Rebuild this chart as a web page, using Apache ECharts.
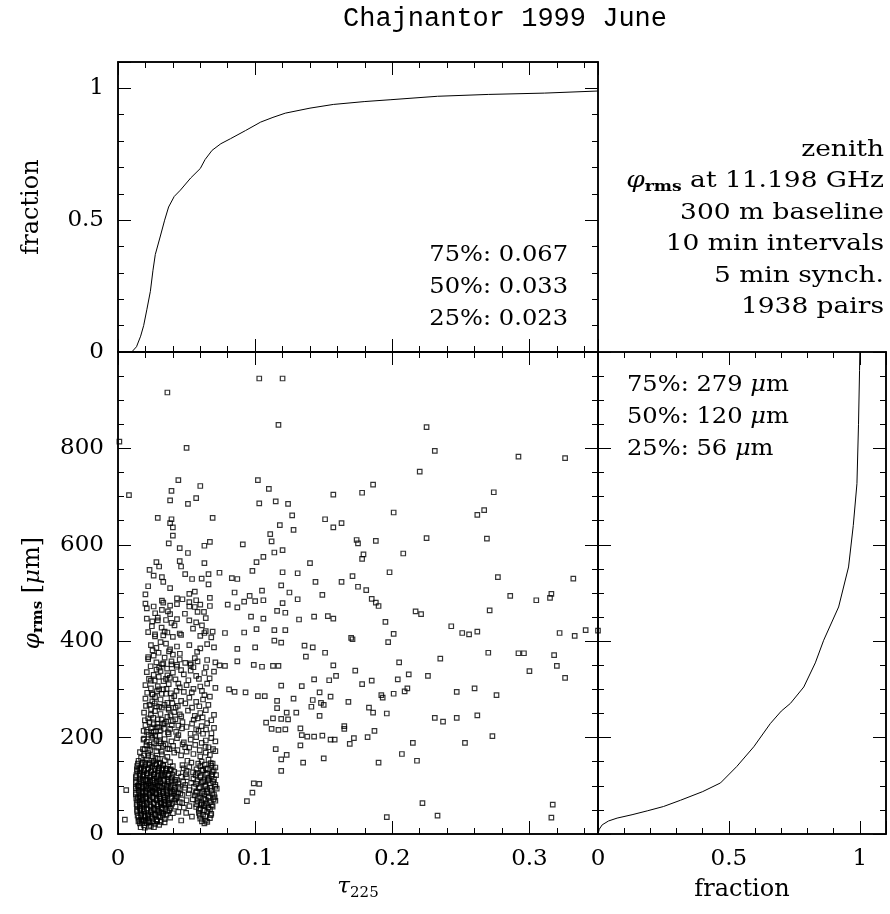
<!DOCTYPE html>
<html>
<head>
<meta charset="utf-8">
<title>Chajnantor 1999 June</title>
<script src="https://cdn.jsdelivr.net/npm/echarts@6/dist/echarts.min.js"></script>
<style>
  html, body { margin: 0; padding: 0; background: #fff; }
  #main { width: 890px; height: 914px; }
</style>
</head>
<body>
<div id="main"></div>
<script>
// cumulative distribution of tau225: [tau, fraction]
var tauCdf = [[0,0],[0.010,0],[0.0135,0.02],[0.0165,0.06],[0.0187,0.10],[0.021,0.16],[0.0236,0.23],[0.0255,0.31],[0.0272,0.37],[0.0309,0.44],[0.034,0.50],[0.0369,0.55],[0.041,0.59],[0.0455,0.614],[0.053,0.66],[0.060,0.696],[0.0635,0.73],[0.0686,0.765],[0.075,0.79],[0.082,0.809],[0.093,0.84],[0.104,0.872],[0.113,0.89],[0.122,0.906],[0.14,0.925],[0.157,0.939],[0.18,0.95],[0.199,0.957],[0.233,0.970],[0.27,0.977],[0.311,0.982],[0.35,0.990]];
// cumulative distribution of phi_rms: [fraction, phi]
var phiCdf = [[0,0],[0.005,10],[0.016,19],[0.04,27],[0.073,33],[0.13,40],[0.188,48],[0.25,57],[0.315,70],[0.40,88],[0.468,106],[0.53,140],[0.595,181],[0.658,229],[0.70,255],[0.735,271],[0.786,305],[0.83,355],[0.862,402],[0.919,471],[0.957,554],[0.975,640],[0.989,727],[0.995,850],[0.999,962],[1.0,1000]];

// tau225 / phi_rms pairs, outer scattered points
var pairsSparse = [[0.103,945],[0.120,945],[0.036,916],[0.117,849],[0.001,814],[0.050,801],[0.008,703],[0.044,734],[0.102,734],[0.110,716],[0.060,722],[0.039,712],[0.057,697],[0.038,692],[0.051,685],[0.103,686],[0.115,690],[0.124,685],[0.127,661],[0.069,656],[0.029,656],[0.039,653],[0.038,645],[0.040,636],[0.118,641],[0.128,631],[0.151,653],[0.157,704],[0.157,636],[0.040,619],[0.111,622],[0.112,607],[0.037,603],[0.091,601],[0.067,606],[0.063,598],[0.045,593],[0.051,583],[0.114,584],[0.120,589],[0.106,575],[0.045,566],[0.028,564],[0.063,562],[0.101,564],[0.140,562],[0.030,555],[0.046,555],[0.023,548],[0.074,542],[0.066,539],[0.049,539],[0.098,546],[0.120,543],[0.131,541],[0.083,531],[0.087,529],[0.026,536],[0.032,533],[0.061,530],[0.054,529],[0.033,523],[0.144,523],[0.038,510],[0.066,518],[0.022,514],[0.085,501],[0.096,494],[0.105,505],[0.119,516],[0.125,501],[0.149,496],[0.020,497],[0.052,498],[0.056,503],[0.032,484],[0.043,489],[0.047,487],[0.057,485],[0.067,490],[0.080,476],[0.087,470],[0.092,482],[0.100,483],[0.106,485],[0.131,487],[0.120,479],[0.021,468],[0.038,456],[0.029,443],[0.032,465],[0.052,472],[0.058,461],[0.116,463],[0.122,459],[0.132,445],[0.143,451],[0.153,452],[0.157,447],[0.097,451],[0.106,447],[0.101,425],[0.114,423],[0.122,423],[0.092,418],[0.078,417],[0.069,420],[0.063,417],[0.046,413],[0.034,420],[0.027,414],[0.136,391],[0.142,387],[0.114,401],[0.119,397],[0.087,384],[0.100,387],[0.137,368],[0.151,376],[0.157,350],[0.159,328],[0.154,319],[0.099,351],[0.105,347],[0.113,349],[0.117,349],[0.074,350],[0.078,349],[0.087,358],[0.022,367],[0.033,354],[0.043,351],[0.053,354],[0.143,321],[0.134,307],[0.119,308],[0.093,294],[0.102,286],[0.107,286],[0.085,295],[0.081,300],[0.147,294],[0.155,285],[0.148,272],[0.142,278],[0.150,268],[0.128,281],[0.116,276],[0.116,261],[0.123,252],[0.130,252],[0.147,245],[0.141,264],[0.124,238],[0.119,239],[0.113,240],[0.108,231],[0.112,218],[0.117,216],[0.122,217],[0.133,219],[0.134,205],[0.138,202],[0.143,202],[0.149,204],[0.155,196],[0.158,196],[0.133,184],[0.123,164],[0.115,176],[0.119,155],[0.135,148],[0.150,157],[0.119,131],[0.099,105],[0.103,104],[0.094,68],[0.098,86],[0.006,91],[0.005,30],
[0.225,844],[0.231,795],[0.220,752],[0.178,708],[0.186,725],[0.201,667],[0.163,645],[0.292,783],[0.326,780],[0.274,709],[0.267,672],[0.262,662],[0.269,613],[0.225,614],[0.174,610],[0.175,603],[0.188,608],[0.179,580],[0.178,571],[0.208,582],[0.198,543],[0.171,535],[0.163,523],[0.175,513],[0.181,506],[0.185,488],[0.188,480],[0.190,473],[0.277,533],[0.332,530],[0.286,494],[0.305,485],[0.315,490],[0.316,498],[0.271,464],[0.217,462],[0.221,456],[0.195,440],[0.243,431],[0.251,417],[0.256,414],[0.262,420],[0.322,417],[0.333,411],[0.341,423],[0.350,422],[0.201,415],[0.197,398],[0.170,407],[0.171,404],[0.270,376],[0.292,375],[0.296,375],[0.318,371],[0.320,349],[0.326,324],[0.300,338],[0.173,339],[0.205,356],[0.235,364],[0.204,321],[0.212,331],[0.226,328],[0.185,318],[0.178,311],[0.211,302],[0.209,296],[0.192,288],[0.193,283],[0.201,291],[0.247,295],[0.260,302],[0.276,288],[0.168,274],[0.183,262],[0.186,252],[0.196,250],[0.231,241],[0.237,233],[0.247,241],[0.262,246],[0.165,224],[0.165,218],[0.187,214],[0.172,199],[0.182,201],[0.169,187],[0.215,189],[0.253,189],[0.273,203],[0.207,166],[0.190,148],[0.218,152],[0.222,64],[0.233,38],[0.196,35],[0.317,61],[0.316,34]];

// middle band, tau < 0.075 and phi 160-480
var pairsMid = [[0.020,478],[0.026,472],[0.033,480],[0.038,474],[0.043,477],[0.052,481],[0.056,471],[0.060,476],[0.067,473],
[0.021,447],[0.025,441],[0.029,449],[0.035,444],[0.039,438],[0.043,446],[0.052,443],[0.057,439],[0.064,448],
[0.022,419],[0.027,410],[0.033,412],[0.036,418],[0.040,409],[0.045,416],[0.060,411],[0.064,421],[0.068,408],
[0.024,392],[0.028,386],[0.035,395],[0.038,383],[0.043,389],[0.052,392],[0.060,385],[0.065,394],[0.070,387],
[0.022,363],[0.028,356],[0.034,366],[0.039,358],[0.045,362],[0.049,355],[0.056,365],[0.058,358],[0.065,361],[0.071,356],
[0.021,336],[0.026,330],[0.031,338],[0.036,329],[0.040,335],[0.048,331],[0.053,339],[0.057,328],[0.063,334],[0.070,337],
[0.020,309],[0.024,302],[0.029,307],[0.033,300],[0.037,311],[0.045,304],[0.050,309],[0.055,301],[0.060,306],[0.065,312],[0.071,303],
[0.020,281],[0.025,275],[0.027,284],[0.031,279],[0.036,272],[0.039,282],[0.046,276],[0.052,283],[0.057,274],[0.062,279],[0.067,285],
[0.019,252],[0.024,247],[0.027,255],[0.031,249],[0.036,243],[0.041,253],[0.045,248],[0.051,256],[0.056,245],[0.060,251],[0.064,257],[0.070,247],
[0.020,226],[0.024,219],[0.026,228],[0.030,221],[0.033,229],[0.038,218],[0.044,225],[0.050,222],[0.054,229],[0.057,217],[0.061,224],[0.065,230],[0.070,220],
[0.019,198],[0.021,191],[0.025,200],[0.028,193],[0.031,188],[0.034,197],[0.039,192],[0.043,199],[0.048,190],[0.053,196],[0.057,201],[0.061,189],[0.064,194],[0.068,199],[0.071,192],
[0.016,170],[0.019,163],[0.022,168],[0.025,161],[0.028,172],[0.032,165],[0.036,160],[0.041,169],[0.046,163],[0.050,171],[0.055,166],[0.060,161],[0.064,169],[0.067,164],[0.071,172],
[0.023,185],[0.026,212],[0.029,238],[0.032,262],[0.035,291],[0.024,318],[0.030,345],[0.027,205],[0.034,230],[0.037,258],[0.041,286],[0.044,312],[0.022,240],[0.030,300],[0.033,183],[0.037,207],[0.040,234],[0.042,262],[0.028,265],[0.025,290],[0.031,215],[0.036,177],[0.044,205],[0.047,232],[0.049,180],[0.021,212],[0.023,268],[0.035,322],[0.039,352],[0.026,370],[0.031,398],[0.040,372],[0.046,340],[0.048,295],[0.054,262],[0.058,240],[0.062,208],[0.066,180],[0.068,236],[0.063,288],[0.059,322],[0.055,346],
[0.0182,176],[0.0207,184],[0.0234,174],[0.0262,188],[0.0293,179],[0.0318,171],[0.0347,186],[0.0375,176],[0.0402,183],[0.0433,174],[0.0471,186],[0.0519,179],[0.0563,185],[0.0596,174],[0.0638,181],[0.0693,176],
[0.0187,214],[0.0223,206],[0.0249,221],[0.0276,213],[0.0305,204],[0.0336,218],[0.0364,211],[0.0392,226],[0.0424,212],[0.0466,219],[0.0529,208],[0.0587,214],[0.0642,217],[0.0681,209],
[0.0196,236],[0.0229,232],[0.0258,241],[0.0287,229],[0.0318,237],[0.0352,233],[0.0383,246],[0.0418,238],[0.0461,244],[0.0552,237],[0.0617,242],
[0.0204,266],[0.0241,259],[0.0268,271],[0.0301,264],[0.0339,268],[0.0368,261],[0.0396,271],[0.0436,266],[0.0491,271],[0.0593,265],[0.0659,268],
[0.0213,293],[0.0252,289],[0.0284,296],[0.0319,291],[0.0354,301],[0.0386,292],[0.0427,297],[0.0538,294],[0.0612,297],
[0.0226,322],[0.0268,318],[0.0297,326],[0.0332,317],[0.0378,324],[0.0419,321],[0.0513,319],[0.0668,323],
[0.0238,348],[0.0281,341],[0.0321,352],[0.0358,343],[0.0428,347],[0.0529,351],[0.0641,346],
[0.0252,381],[0.0296,376],[0.0372,379],[0.0451,374],[0.0577,378],
[0.0247,431],[0.0318,428],[0.0412,433],[0.0547,426],[0.0612,433],
[0.0271,458],[0.0364,462],[0.0488,457],[0.0627,461],
[0.0168,158],[0.0194,176],[0.0221,162],[0.0247,181],[0.0273,158],[0.0301,192],[0.0186,196],[0.0243,204],[0.0289,222]];

// dense core, phi < 160
var pairsCore = [[0.015,152],[0.018,148],[0.021,155],[0.023,147],[0.026,151],[0.029,156],[0.031,146],[0.034,153],[0.038,149],[0.061,150],[0.066,154],[0.069,146],
[0.014,141],[0.017,137],[0.020,143],[0.022,136],[0.025,140],[0.027,144],[0.030,137],[0.033,142],[0.036,135],[0.040,141],[0.047,143],[0.052,139],[0.060,141],[0.064,136],[0.068,142],[0.071,138],
[0.014,130],[0.016,125],[0.019,131],[0.021,126],[0.024,129],[0.026,124],[0.029,131],[0.032,127],[0.035,132],[0.037,124],[0.041,129],[0.044,126],[0.050,131],[0.058,127],[0.062,132],[0.065,125],[0.069,129],
[0.013,118],[0.016,114],[0.018,119],[0.020,113],[0.023,117],[0.025,112],[0.028,118],[0.030,114],[0.033,120],[0.036,113],[0.039,117],[0.043,112],[0.046,119],[0.055,115],[0.060,118],[0.063,112],[0.066,117],[0.070,114],
[0.013,106],[0.015,101],[0.017,107],[0.019,102],[0.022,105],[0.024,100],[0.027,106],[0.029,101],[0.031,107],[0.034,103],[0.037,108],[0.040,101],[0.044,105],[0.049,102],[0.057,104],[0.061,107],[0.064,100],[0.067,105],[0.071,102],
[0.013,94],[0.015,90],[0.018,95],[0.020,89],[0.022,93],[0.025,88],[0.027,94],[0.030,90],[0.032,96],[0.035,91],[0.038,95],[0.041,89],[0.045,93],[0.052,91],[0.059,95],[0.062,88],[0.065,93],[0.068,90],[0.072,94],
[0.013,82],[0.016,78],[0.018,83],[0.020,77],[0.023,81],[0.025,76],[0.028,82],[0.030,78],[0.033,84],[0.036,79],[0.039,83],[0.043,77],[0.047,81],[0.056,80],[0.060,76],[0.063,83],[0.066,78],[0.070,82],
[0.014,70],[0.016,66],[0.018,71],[0.021,65],[0.023,69],[0.026,64],[0.028,70],[0.031,66],[0.034,71],[0.037,65],[0.041,69],[0.045,66],[0.050,70],[0.058,68],[0.061,64],[0.064,71],[0.067,66],[0.071,69],
[0.014,58],[0.016,54],[0.019,59],[0.021,53],[0.024,57],[0.026,52],[0.029,58],[0.032,54],[0.035,59],[0.038,53],[0.042,57],[0.048,55],[0.057,56],[0.060,52],[0.063,58],[0.066,54],[0.069,57],
[0.014,46],[0.017,42],[0.019,47],[0.022,41],[0.024,45],[0.027,40],[0.030,46],[0.033,42],[0.036,47],[0.040,43],[0.044,46],[0.059,44],[0.062,40],[0.065,46],[0.068,42],
[0.015,34],[0.017,30],[0.020,35],[0.022,29],[0.025,33],[0.028,30],[0.031,35],[0.034,31],[0.038,34],[0.060,32],[0.064,28],[0.067,33],
[0.016,22],[0.019,18],[0.021,23],[0.024,17],[0.027,21],[0.030,19],[0.034,24],[0.063,22],
[0.0155,136],[0.0185,122],[0.0215,110],[0.0245,97],[0.0275,85],[0.0305,73],[0.0335,61],[0.0165,49],[0.0195,37],[0.0225,26],[0.0255,40],[0.0285,52],[0.0315,64],[0.0345,76],[0.0175,88],[0.0205,100],[0.0235,112],[0.0265,124],[0.0295,136],[0.0325,88],[0.0355,100],[0.0175,62],[0.0205,74],[0.0235,86],[0.0265,98],[0.0295,110],[0.0325,122],[0.0145,100],[0.0145,76],[0.0155,28],[0.0185,28],[0.0285,26],[0.0315,44],[0.0375,62],[0.0395,88],[0.0415,112],[0.0385,134],[0.0425,74],[0.0455,84],[0.0475,108],[0.0495,124],[0.0535,148],[0.0575,88],[0.0625,60],[0.0655,112],[0.0685,124],[0.0705,76],[0.0545,72]];

// second layer of the dense core
var pairsCore2 = [[0.0145,146],[0.0172,145],[0.0198,148],[0.0226,144],[0.0251,147],[0.0279,145],[0.0305,148],[0.0328,144],
[0.0138,134],[0.0163,133],[0.0192,135],[0.0217,134],[0.0243,132],[0.0268,135],[0.0297,133],[0.0322,134],[0.0349,136],[0.0378,133],
[0.0134,122],[0.0158,121],[0.0186,123],[0.0211,122],[0.0238,120],[0.0262,123],[0.0288,121],[0.0315,122],[0.0341,124],[0.0368,121],[0.0397,123],
[0.0132,110],[0.0155,109],[0.0181,111],[0.0207,110],[0.0232,108],[0.0258,111],[0.0284,109],[0.0309,110],[0.0337,112],[0.0362,109],[0.0389,111],[0.0418,108],
[0.0131,98],[0.0153,97],[0.0178,99],[0.0204,98],[0.0229,96],[0.0255,99],[0.0281,97],[0.0306,98],[0.0332,100],[0.0358,97],[0.0386,99],[0.0414,96],[0.0441,98],
[0.0131,86],[0.0154,85],[0.0179,87],[0.0203,86],[0.0228,84],[0.0254,87],[0.0279,85],[0.0304,86],[0.0331,88],[0.0357,85],[0.0383,87],[0.0409,84],[0.0437,86],
[0.0133,74],[0.0156,73],[0.0181,75],[0.0206,74],[0.0231,72],[0.0257,75],[0.0282,73],[0.0308,74],[0.0335,76],[0.0361,73],[0.0388,75],[0.0416,72],
[0.0136,62],[0.0159,61],[0.0184,63],[0.0209,62],[0.0235,60],[0.0261,63],[0.0287,61],[0.0313,62],[0.0339,64],[0.0367,61],[0.0394,63],
[0.0139,50],[0.0163,49],[0.0188,51],[0.0213,50],[0.0239,48],[0.0266,51],[0.0292,49],[0.0318,50],[0.0345,52],[0.0373,49],
[0.0143,38],[0.0168,37],[0.0193,39],[0.0218,38],[0.0244,36],[0.0271,39],[0.0298,37],[0.0326,38],[0.0354,40],
[0.0149,26],[0.0174,25],[0.0201,27],[0.0228,24],[0.0256,26],[0.0284,27],[0.0312,25],
[0.0165,14],[0.0195,13],[0.0226,15],[0.0262,14],
[0.0585,146],[0.0632,144],[0.0676,147],
[0.0572,134],[0.0615,133],[0.0655,135],[0.0698,132],
[0.0566,122],[0.0602,121],[0.0641,123],[0.0683,120],[0.0715,122],
[0.0578,110],[0.0619,109],[0.0658,111],[0.0694,108],
[0.0554,98],[0.0596,97],[0.0634,99],[0.0672,96],[0.0709,98],
[0.0567,86],[0.0611,85],[0.0649,87],[0.0688,84],
[0.0583,74],[0.0624,73],[0.0661,75],[0.0697,72],
[0.0571,62],[0.0608,61],[0.0645,63],[0.0684,60],
[0.0589,50],[0.0628,49],[0.0671,51],
[0.0596,38],[0.0637,37],[0.0676,39],
[0.0612,26],[0.0651,25],
[0.0478,136],[0.0502,118],[0.0489,96],[0.0515,84],[0.0468,64],[0.0521,58],[0.0497,44],[0.0533,106],[0.0547,128],[0.0506,152],[0.0461,28],[0.0539,36]];

// tick labels
var tauLabels = [0, 0.1, 0.2, 0.3];
var fracLabels = [0, 0.5, 1];
var phiLabels = [0, 200, 400, 600, 800];

var tauQuant = ['75%: 0.067', '50%: 0.033', '25%: 0.023'];
var phiQuant = ['75%: 279 {i|μ}m', '50%: 120 {i|μ}m', '25%: 56 {i|μ}m'];
var notes = ['zenith', '{i|φ}{b|rms} at 11.198 GHz', '300 m baseline', '10 min intervals', '5 min synch.', '1938 pairs'];

var serif = 'DejaVu Serif';
var ink = '#000';
var richText = {
  i: { fontFamily: serif, fontStyle: 'italic', fontSize: 23, color: ink },
  s: { fontFamily: serif, fontSize: 15, color: ink, padding: [11, 0, 0, 0] },
  b: { fontFamily: serif, fontSize: 15, fontWeight: 'bold', color: ink, padding: [11, 0, 0, 0] }
};

function makeAxis(grid, pos, min, max, step, tickLen, labels) {
  return {
    type: 'value', gridIndex: grid, position: pos, min: min, max: max, interval: step,
    axisLine: { show: true, onZero: false, lineStyle: { color: ink, width: 1.5 } },
    axisTick: { show: true, inside: true, length: tickLen, lineStyle: { color: ink, width: 1 } },
    axisLabel: labels ? {
      show: true, color: ink, fontFamily: serif, fontSize: 23, margin: 14,
      formatter: function (v) {
        var r = Math.round(v * 1e6) / 1e6;
        return labels.indexOf(r) >= 0 ? String(r) : '';
      }
    } : { show: false },
    splitLine: { show: false }
  };
}

var xAxes = [
  makeAxis(0, 'bottom', 0, 0.35, 0.02, 6),
  makeAxis(0, 'bottom', 0, 0.35, 0.1, 13),
  makeAxis(0, 'top', 0, 0.35, 0.02, 6),
  makeAxis(0, 'top', 0, 0.35, 0.1, 13),
  makeAxis(1, 'bottom', 0, 0.35, 0.02, 6),
  makeAxis(1, 'bottom', 0, 0.35, 0.1, 13, tauLabels),
  makeAxis(1, 'top', 0, 0.35, 0.02, 6),
  makeAxis(1, 'top', 0, 0.35, 0.1, 13),
  makeAxis(2, 'bottom', 0, 1.1, 0.1, 6),
  makeAxis(2, 'bottom', 0, 1.1, 0.5, 13, fracLabels),
  makeAxis(2, 'top', 0, 1.1, 0.1, 6),
  makeAxis(2, 'top', 0, 1.1, 0.5, 13)
];
var yAxes = [
  makeAxis(0, 'left', 0, 1.1, 0.1, 6),
  makeAxis(0, 'left', 0, 1.1, 0.5, 13, fracLabels),
  makeAxis(0, 'right', 0, 1.1, 0.1, 6),
  makeAxis(0, 'right', 0, 1.1, 0.5, 13),
  makeAxis(1, 'left', 0, 1000, 50, 6),
  makeAxis(1, 'left', 0, 1000, 200, 13, phiLabels),
  makeAxis(1, 'right', 0, 1000, 50, 6),
  makeAxis(1, 'right', 0, 1000, 200, 13),
  makeAxis(2, 'left', 0, 1000, 50, 6),
  makeAxis(2, 'left', 0, 1000, 200, 13),
  makeAxis(2, 'right', 0, 1000, 50, 6),
  makeAxis(2, 'right', 0, 1000, 200, 13)
];

// axis titles
var nameFont = { fontFamily: serif, fontSize: 24, color: ink, rich: richText };
Object.assign(xAxes[5], { name: '{i|τ}{s|225}', nameLocation: 'middle', nameGap: 38, nameTextStyle: nameFont });
Object.assign(xAxes[9], { name: 'fraction', nameLocation: 'middle', nameGap: 44, nameTextStyle: nameFont });
Object.assign(yAxes[1], { name: 'fraction', nameLocation: 'middle', nameRotate: 90, nameGap: 74, nameTextStyle: nameFont });
Object.assign(yAxes[5], { name: '{i|φ}{b|rms} [{i|μ}m]', nameLocation: 'middle', nameRotate: 90, nameGap: 72, nameTextStyle: nameFont });

var textFont = '23px "DejaVu Serif"';
var graphics = [{
  type: 'text', x: 505, y: 19,
  style: { text: 'Chajnantor 1999 June', font: '27px "Liberation Mono"', fill: ink, align: 'center', verticalAlign: 'middle' }
}];
tauQuant.forEach(function (t, k) {
  graphics.push({ type: 'text', x: 568, y: 255 + k * 32, scaleX: 1.05,
    style: { text: t, font: textFont, fill: ink, align: 'right', verticalAlign: 'middle' } });
});
phiQuant.forEach(function (t, k) {
  graphics.push({ type: 'text', x: 627, y: 385 + k * 32, scaleX: 1.05,
    style: { text: t, font: textFont, fill: ink, align: 'left', verticalAlign: 'middle', rich: richText } });
});
notes.forEach(function (t, k) {
  graphics.push({ type: 'text', x: 884, y: 150 + k * 31.4, scaleX: 1.15,
    style: { text: t, font: textFont, fill: ink, align: 'right', verticalAlign: 'middle', rich: richText } });
});

var pts = pairsSparse.concat(pairsMid, pairsCore, pairsCore2);

var myChart = echarts.init(document.getElementById('main'));
var option = {
  animation: false,
  backgroundColor: '#fff',
  grid: [
    { left: 118, top: 62, width: 480, height: 290, outerBoundsMode: 'none' },
    { left: 118, top: 352, width: 480, height: 482, outerBoundsMode: 'none' },
    { left: 598, top: 352, width: 288, height: 482, outerBoundsMode: 'none' }
  ],
  xAxis: xAxes,
  yAxis: yAxes,
  graphic: graphics,
  series: [
    {
      type: 'line', xAxisIndex: 1, yAxisIndex: 1, data: tauCdf,
      showSymbol: false, smooth: false, lineStyle: { color: ink, width: 1 }
    },
    {
      type: 'scatter', xAxisIndex: 5, yAxisIndex: 5, data: pts,
      symbol: 'rect', symbolSize: 4.5,
      itemStyle: { color: 'rgba(0,0,0,0)', borderColor: ink, borderWidth: 1.2 }
    },
    {
      type: 'line', xAxisIndex: 9, yAxisIndex: 9, data: phiCdf,
      showSymbol: false, smooth: false, lineStyle: { color: ink, width: 1 }
    }
  ]
};
myChart.setOption(option);
window.addEventListener('resize', function () {
  myChart.resize();
});
</script>
</body>
</html>
